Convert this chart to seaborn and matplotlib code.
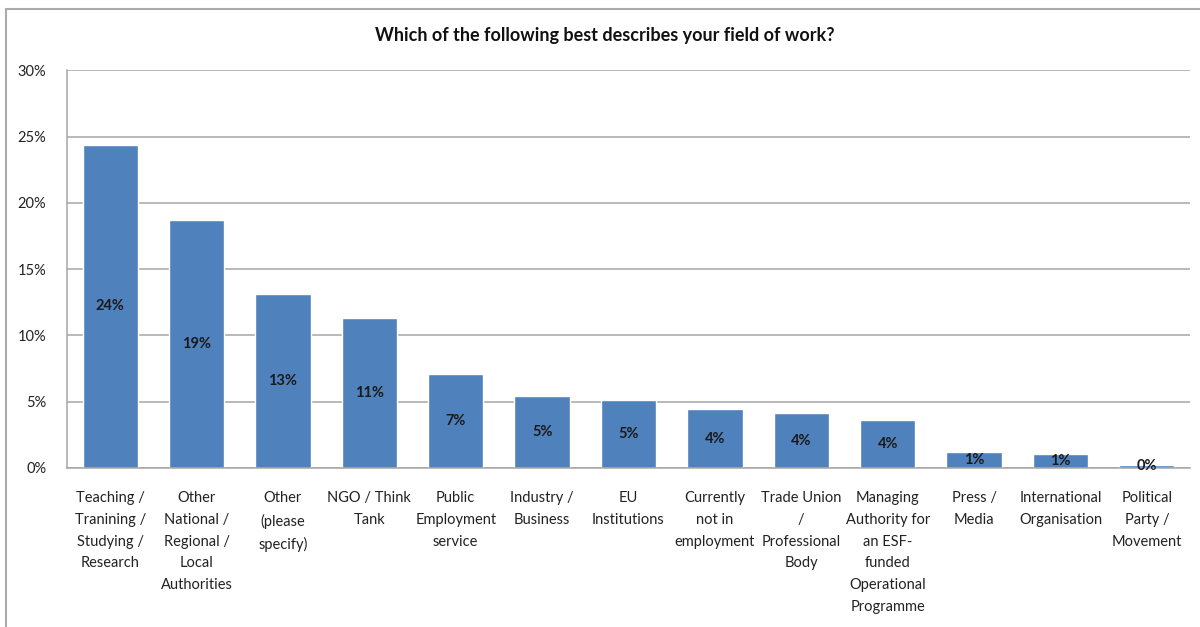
import matplotlib
matplotlib.use("Agg")
import matplotlib.pyplot as plt
from matplotlib.patches import Rectangle
from matplotlib.ticker import FuncFormatter, MultipleLocator
import seaborn as sns

title = "Which of the following best describes your field of work?"

categories = [
    "Teaching /\nTranining /\nStudying /\nResearch",
    "Other\nNational /\nRegional /\nLocal\nAuthorities",
    "Other\n(please\nspecify)",
    "NGO / Think\nTank",
    "Public\nEmployment\nservice",
    "Industry /\nBusiness",
    "EU\nInstitutions",
    "Currently\nnot in\nemployment",
    "Trade Union\n/\nProfessional\nBody",
    "Managing\nAuthority for\nan ESF-\nfunded\nOperational\nProgramme",
    "Press /\nMedia",
    "International\nOrganisation",
    "Political\nParty /\nMovement",
]

# share of respondents, percent
values = [24.4, 18.7, 13.1, 11.3, 7.1, 5.4, 5.1, 4.4, 4.1, 3.6, 1.2, 1.0, 0.2]

sns.set_theme(style="white")
plt.rcParams["font.family"] = ["Lato", "DejaVu Sans"]

fig = plt.figure(figsize=(12, 6.27), dpi=100)
ax = fig.add_axes([0.0558, 0.254, 0.9359, 0.6336])

sns.barplot(x=categories, y=values, color="#4F81BD", saturation=1,
            width=0.64, ax=ax)

ax.bar_label(ax.containers[0], labels=[f"{v:.0f}%" for v in values],
             label_type="center", fontsize=10.5, fontweight="bold",
             color="#1a1a1a")

ax.set_ylim(0, 30)
ax.set_xlim(-0.5, len(categories) - 0.5)
ax.yaxis.set_major_locator(MultipleLocator(5))
ax.yaxis.set_major_formatter(FuncFormatter(lambda v, _: f"{v:.0f}%"))
ax.grid(axis="y", color="#A6A6A6", linewidth=1.1)
ax.set_axisbelow(True)

for side in ("top", "right"):
    ax.spines[side].set_visible(False)
for side in ("left", "bottom"):
    ax.spines[side].set_color("#A6A6A6")
    ax.spines[side].set_linewidth(1.1)

ax.tick_params(axis="y", length=0, pad=15, labelsize=10.5, labelcolor="#222222")
ax.tick_params(axis="x", length=0, pad=17, labelsize=10.5, labelcolor="#222222")
for lbl in ax.get_xticklabels():
    lbl.set_linespacing(1.7)
    lbl.set_verticalalignment("top")
    lbl.set_horizontalalignment("center")

fig.text(0.504, 0.943, title, ha="center", va="center",
         fontsize=13, fontweight="bold", color="#111111")

# outer chart frame, running off the right and bottom edges
frame_top = 1 - 9 / 627
fig.add_artist(Rectangle((6 / 1200, -0.05), 1.1, frame_top + 0.05,
                         transform=fig.transFigure, fill=False,
                         edgecolor="#ABABAB", linewidth=1.5, clip_on=False))

fig.savefig("out.png", dpi=100)
